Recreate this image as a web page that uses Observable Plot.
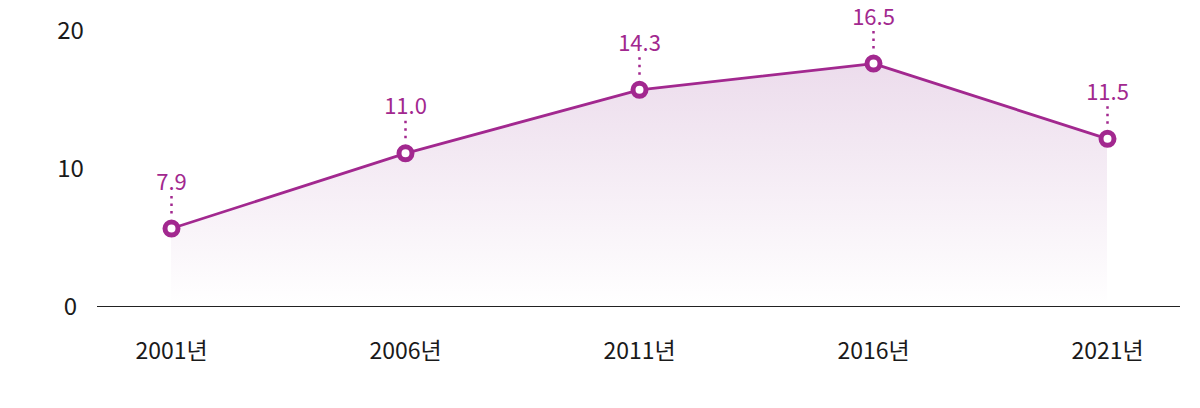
<!DOCTYPE html>
<html><head><meta charset="utf-8">
<script src="https://cdn.jsdelivr.net/npm/d3@7"></script>
<script src="https://cdn.jsdelivr.net/npm/@observablehq/plot@0.6"></script>
<style>body{margin:0;background:#fff;}</style>
</head><body><div id="chart"></div>
<script>
const years = ["2001년", "2006년", "2011년", "2016년", "2021년"];
// vertical positions as drawn in the picture
const positions = [5.65, 11.1, 15.7, 17.6, 12.15];
// value labels as printed
const labels = ["7.9", "11.0", "14.3", "16.5", "11.5"];
const yTicks = [0, 10, 20];

const data = years.map((y, i) => ({year: y, v: positions[i], label: labels[i]}));
const purple = "#a2288f";
const font = "'Noto Sans CJK KR', 'Noto Sans', sans-serif";

const chart = Plot.plot({
  width: 1200, height: 408,
  marginLeft: 97, marginRight: 20, marginTop: 30, marginBottom: 102,
  style: {fontFamily: font, background: "#fff"},
  x: {type: "point", domain: years, padding: 0.31, axis: null, label: null},
  y: {domain: [0, 20], axis: null, label: null},
  marks: [
    Plot.areaY(data, {x: "year", y: "v", fill: "url(#areaGrad)"}),
    Plot.ruleY([0], {stroke: "#222", strokeWidth: 1}),
    Plot.text(yTicks, {y: d => d, text: d => String(d), frameAnchor: "left", dx: -27, dy: 1,
      textAnchor: "middle", lineAnchor: "middle", fontSize: 24, fill: "#1a1a1a", fontWeight: 400}),
    Plot.text(years, {x: d => d, text: d => d, frameAnchor: "bottom", dy: 45,
      lineAnchor: "middle", fontSize: 23, fill: "#1a1a1a", fontWeight: 400}),
    Plot.ruleX(data, {x: "year", y1: "v", y2: "v", insetTop: -32, insetBottom: 13,
      stroke: purple, strokeWidth: 2.5, strokeDasharray: "2.5,5"}),
    Plot.line(data, {x: "year", y: "v", stroke: purple, strokeWidth: 2.8}),
    Plot.dot(data, {x: "year", y: "v", r: 6.5, fill: "#fff", stroke: purple, strokeWidth: 5}),
    Plot.text(data, {x: "year", y: "v", text: "label", dy: -46, lineAnchor: "middle",
      fontSize: 22, fill: purple, fontWeight: 400})
  ]
});

const svg = d3.select(chart);
const defs = svg.insert("defs", ":first-child");
const g = defs.append("linearGradient").attr("id", "areaGrad")
  .attr("x1", 0).attr("y1", 0).attr("x2", 0).attr("y2", 1);
g.append("stop").attr("offset", "0%").attr("stop-color", "#ecdcec");
g.append("stop").attr("offset", "100%").attr("stop-color", "#ffffff");

document.getElementById("chart").appendChild(chart);
</script>
</body></html>
